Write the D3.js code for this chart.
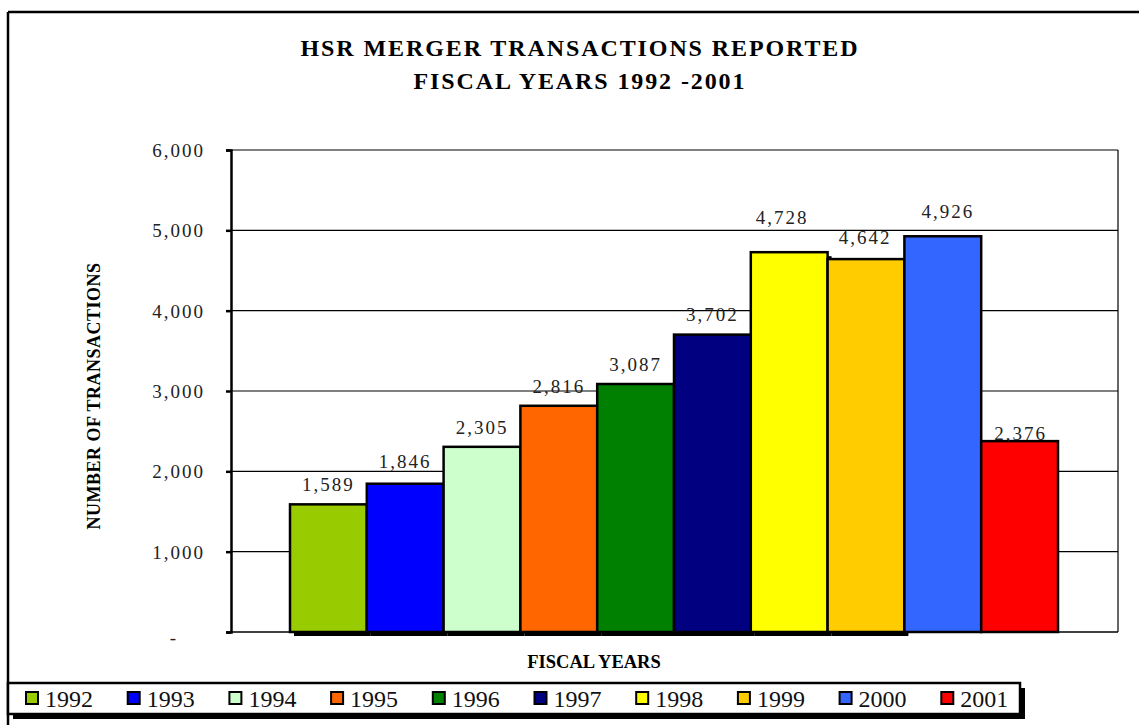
<!DOCTYPE html>
<html><head><meta charset="utf-8">
<script src="https://cdn.jsdelivr.net/npm/d3@7"></script>
<style>body{margin:0;background:#fff} svg{display:block}</style>
</head><body><svg id="c" width="1139" height="725"></svg>
<script>
// ---- data ----
const years = ["1992","1993","1994","1995","1996","1997","1998","1999","2000","2001"];
const transactions = [1589, 1846, 2305, 2816, 3087, 3702, 4728, 4642, 4926, 2376];
const yTickValues = [0, 1000, 2000, 3000, 4000, 5000, 6000];
const titleLines = ["HSR MERGER TRANSACTIONS REPORTED", "FISCAL YEARS 1992 -2001"];
const xTitle = "FISCAL YEARS";
const yTitle = "NUMBER OF TRANSACTIONS";

// ---- styles / layout (not data) ----
const barColors = ["#99CC00","#0000FF","#CCFFCC","#FF6600","#008000","#000080","#FFFF00","#FFCC00","#3366FF","#FF0000"];
const hasShadow = [true,true,true,true,true,true,true,true,false,false];
const labelGap = [13, 15.5, 13, 13, 13, 13.5, 28, 15, 18, 1.5];
const labelNudge = [0, 0, 0, 0, 0, 0, -7, -1, 5, 1];

const svg = d3.select("#c");
const serif = "'Liberation Serif','Times New Roman',serif";

// outer frame (top and left edges visible)
svg.append("line").attr("x1",8).attr("x2",1139).attr("y1",12).attr("y2",12).attr("stroke","#000").attr("stroke-width",2.5);
svg.append("line").attr("x1",8).attr("x2",8).attr("y1",12).attr("y2",725).attr("stroke","#000").attr("stroke-width",2.5);

// title
svg.selectAll("text.title").data(titleLines).join("text")
  .attr("class","title")
  .attr("x",580).attr("y",(d,i)=>56+i*33)
  .attr("text-anchor","middle")
  .attr("font-family",serif).attr("font-weight","bold").attr("font-size",24)
  .attr("letter-spacing",1.9)
  .text(d=>d);

const plotL = 231, plotR = 1118, plotT = 150, plotB = 632;
const y = d3.scaleLinear().domain([0,6000]).range([plotB, plotT]);
const x = d3.scaleBand().domain(years).range([plotL+59, plotR-60]).padding(0);

// gridlines
svg.append("g").selectAll("line").data(yTickValues.filter(d=>d>0)).join("line")
  .attr("x1",plotL).attr("x2",plotR).attr("y1",d=>y(d)).attr("y2",d=>y(d))
  .attr("stroke","#000").attr("stroke-width",1.2);
// right border
svg.append("line").attr("x1",plotR).attr("x2",plotR).attr("y1",plotT).attr("y2",plotB).attr("stroke","#000").attr("stroke-width",1.2);
// bottom
svg.append("line").attr("x1",plotL).attr("x2",plotR).attr("y1",plotB).attr("y2",plotB).attr("stroke","#000").attr("stroke-width",1.5);

// bars with shadows, drawn in order
const bars = svg.append("g");
years.forEach((yr,i)=>{
  const v = transactions[i];
  if (hasShadow[i]) {
    bars.append("rect")
      .attr("x",x(yr)+4).attr("y",y(v)+4)
      .attr("width",x.bandwidth()).attr("height",plotB-y(v))
      .attr("fill","#000");
  }
  bars.append("rect")
    .attr("x",x(yr)).attr("y",y(v))
    .attr("width",x.bandwidth()).attr("height",plotB-y(v))
    .attr("fill",barColors[i]).attr("stroke","#000").attr("stroke-width",2.5);
});

// y axis
const yAxis = d3.axisLeft(y).tickValues(yTickValues).tickSize(5).tickPadding(21)
  .tickFormat(d=> d===0 ? "-" : d3.format(",")(d));
const ga = svg.append("g").attr("transform",`translate(${plotL},0)`).call(yAxis);
ga.select(".domain").attr("stroke","#000").attr("stroke-width",2.5);
ga.selectAll(".tick line").attr("stroke","#000").attr("stroke-width",2.5);
ga.selectAll(".tick text").attr("font-family",serif).attr("font-size",19)
  .attr("letter-spacing",2).attr("fill","#222").attr("dy","0.35em");
ga.selectAll(".tick text").filter(d=>d===0).attr("dx",-27).attr("dy","0.6em");

// value labels
svg.append("g").selectAll("text").data(years).join("text")
  .attr("x",(d,i)=>x(d)+x.bandwidth()/2+labelNudge[i])
  .attr("y",(d,i)=>y(transactions[i])-labelGap[i])
  .attr("text-anchor","middle")
  .attr("font-family",serif).attr("font-size",19).attr("letter-spacing",2).attr("fill","#222")
  .text((d,i)=>d3.format(",")(transactions[i]));

// axis titles
svg.append("text").attr("x",594).attr("y",668).attr("text-anchor","middle")
  .attr("font-family",serif).attr("font-weight","bold").attr("font-size",18.5).text(xTitle);
svg.append("text").attr("transform","translate(100,396) rotate(-90)").attr("text-anchor","middle")
  .attr("font-family",serif).attr("font-weight","bold").attr("font-size",18).attr("letter-spacing",0.5).text(yTitle);

// legend
const lg = svg.append("g");
lg.append("rect").attr("x",13).attr("y",688).attr("width",1012).attr("height",31).attr("fill","#000");
lg.append("rect").attr("x",8).attr("y",683).attr("width",1012).attr("height",31)
  .attr("fill","#fff").attr("stroke","#000").attr("stroke-width",2.5);
const items = lg.selectAll("g.item").data(years).join("g").attr("class","item")
  .attr("transform",(d,i)=>`translate(${26+i*101.7},0)`);
items.append("rect").attr("x",0).attr("y",692).attr("width",12).attr("height",12)
  .attr("fill",(d,i)=>barColors[i]).attr("stroke","#000").attr("stroke-width",2);
items.append("text").attr("x",19).attr("y",707)
  .attr("font-family",serif).attr("font-size",24).attr("fill","#111").text(d=>d);
</script></body></html>
